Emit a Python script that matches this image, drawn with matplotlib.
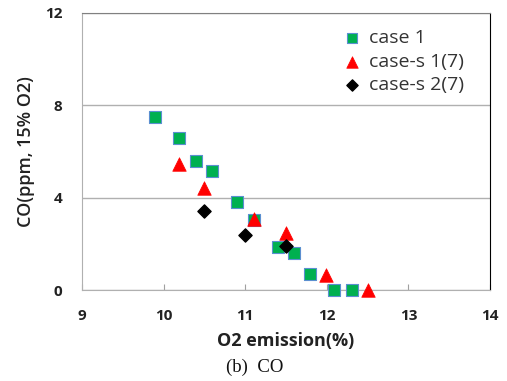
import matplotlib
matplotlib.use("Agg")
import matplotlib.pyplot as plt

case1_x = [9.89, 10.19, 10.40, 10.59, 10.90, 11.11, 11.40, 11.60, 11.79, 12.09, 12.31]
case1_y = [7.50, 6.59, 5.59, 5.16, 3.81, 3.03, 1.86, 1.60, 0.69, 0.0, 0.0]
cases1_x = [10.19, 10.50, 11.11, 11.50, 11.99, 12.50]
cases1_y = [5.46, 4.42, 3.08, 2.47, 0.65, 0.0]
cases2_x = [10.50, 11.00, 11.50]
cases2_y = [3.42, 2.38, 1.91]
labels = ["case 1", "case-s 1(7)", "case-s 2(7)"]
xticks = [9, 10, 11, 12, 13, 14]
yticks = [0, 4, 8, 12]

plt.rcParams['font.family'] = ['Open Sans', 'DejaVu Sans']
fig = plt.figure(figsize=(5.07, 3.81), dpi=100)
ax = fig.add_axes([82/507, 1-290/381, (490-82)/507, (290-13)/381])

ax.scatter(case1_x, case1_y, marker='s', s=80, color='#00b050', edgecolors='#5b8fd0',
           linewidths=0.8, label=labels[0], zorder=3, clip_on=False)
ax.scatter(cases1_x, cases1_y, marker='^', s=95, color='#ff0000', edgecolors='#ff0000',
           linewidths=0.5, label=labels[1], zorder=4, clip_on=False)
ax.scatter(cases2_x, cases2_y, marker='D', s=45, color='#000000', label=labels[2],
           zorder=5, clip_on=False)

ax.set_xlim(9, 14)
ax.set_ylim(0, 12)
ax.set_xticks(xticks)
ax.set_yticks(yticks)
ax.set_xticklabels([str(v) for v in xticks], fontsize=11, fontweight='bold', color='#222222')
ax.set_yticklabels([str(v) for v in yticks], fontsize=11, fontweight='bold', color='#222222')
ax.tick_params(axis='x', direction='in', length=4, color='#a0a0a0', pad=14)
ax.tick_params(axis='y', length=0, pad=14)
ax.yaxis.grid(True, color='#b0b0b0', linewidth=1)
ax.set_axisbelow(True)
for s in ['left', 'bottom']:
    ax.spines[s].set_color('#b0b0b0')
ax.spines['top'].set_color('#808080')
ax.spines['right'].set_color('#000000')

ax.set_xlabel("O2 emission(%)", fontsize=13, fontweight='bold', color='#222222', labelpad=6)
ax.set_ylabel("CO(ppm, 15% O2)", fontsize=13, fontweight='semibold', color='#222222', labelpad=7)

leg = ax.legend(loc='upper right', bbox_to_anchor=(0.97, 0.99), frameon=False, fontsize=14,
                handletextpad=0.2, handlelength=1.4, labelspacing=0.28, borderaxespad=0.3,
                scatterpoints=1, markerscale=0.85)
for t in leg.get_texts():
    t.set_color('#333333')

fig.text(255/507, 1-367/381, "(b)  CO", fontsize=13.5, family='Liberation Serif',
         ha='center', va='center', color='#111111')

fig.savefig("out.png", dpi=100)
